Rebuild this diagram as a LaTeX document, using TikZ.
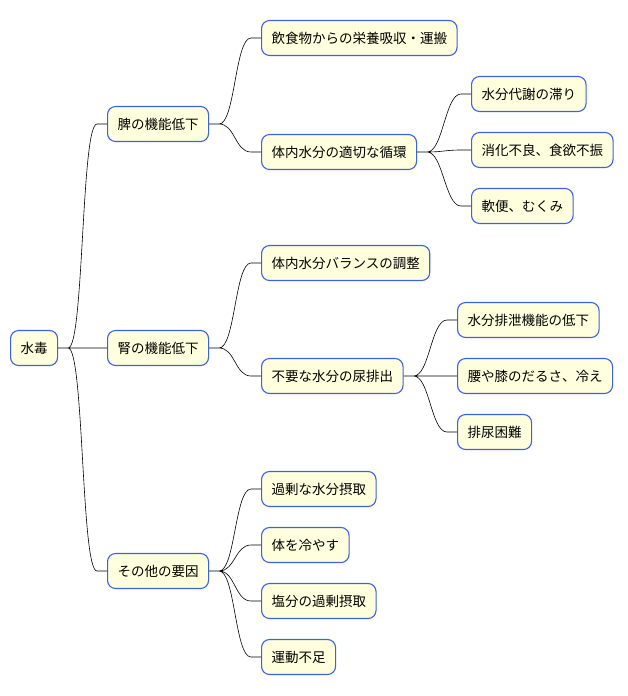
\documentclass[tikz,border=0pt]{standalone}
\usepackage{fontspec}
\setmainfont{Noto Sans CJK JP}
\usetikzlibrary{calc}
\definecolor{boxfill}{HTML}{FFFFDE}
\definecolor{boxline}{HTML}{3D62E0}
\tikzset{
  item/.style={draw=boxline,fill=boxfill,line width=1.1pt,rounded corners=8pt,
    anchor=west,minimum height=35pt,inner xsep=10pt,font=\fontsize{13.5pt}{14pt}\selectfont},
  link/.style={to path={-- ++(10pt,0) .. controls +(16pt,0) and ($(\tikztotarget)+(-26pt,0)$) .. ($(\tikztotarget)+(-10pt,0)$) -- (\tikztotarget)}}
}
\begin{document}
\begin{tikzpicture}[x=1pt,y=-1pt]
\useasboundingbox (0,0) rectangle (628,696);
%root
\node[item] (root) at (10,348) {水毒};
%first level
\node[item] (hi) at (107,124) {脾の機能低下};
\node[item] (jin) at (107,348) {腎の機能低下};
\node[item] (other) at (107,571) {その他の要因};
%second level
\node[item] (eiyo) at (261,38) {飲食物からの栄養吸収・運搬};
\node[item] (junkan) at (261,152) {体内水分の適切な循環};
\node[item] (balance) at (261,263) {体内水分バランスの調整};
\node[item] (nyo) at (261,376) {不要な水分の尿排出};
\node[item] (kajo) at (261,489) {過剰な水分摂取};
\node[item] (hiyasu) at (261,545) {体を冷やす};
\node[item] (enbun) at (261,601) {塩分の過剰摂取};
\node[item] (undo) at (261,657) {運動不足};
%third level
\node[item] (todo) at (471,94) {水分代謝の滞り};
\node[item] (shoka) at (471,150) {消化不良、食欲不振};
\node[item] (nanben) at (471,206) {軟便、むくみ};
\node[item] (haisetsu) at (457,320) {水分排泄機能の低下};
\node[item] (koshi) at (457,376) {腰や膝のだるさ、冷え};
\node[item] (konnan) at (457,432) {排尿困難};
%connectors
\draw[line width=0.6pt] (root.east) to[link] (hi.west)
(root.east) to[link] (jin.west)
(root.east) to[link] (other.west)
(hi.east) to[link] (eiyo.west)
(hi.east) to[link] (junkan.west)
(junkan.east) to[link] (todo.west)
(junkan.east) to[link] (shoka.west)
(junkan.east) to[link] (nanben.west)
(jin.east) to[link] (balance.west)
(jin.east) to[link] (nyo.west)
(nyo.east) to[link] (haisetsu.west)
(nyo.east) to[link] (koshi.west)
(nyo.east) to[link] (konnan.west)
(other.east) to[link] (kajo.west)
(other.east) to[link] (hiyasu.west)
(other.east) to[link] (enbun.west)
(other.east) to[link] (undo.west);
\end{tikzpicture}
\end{document}
